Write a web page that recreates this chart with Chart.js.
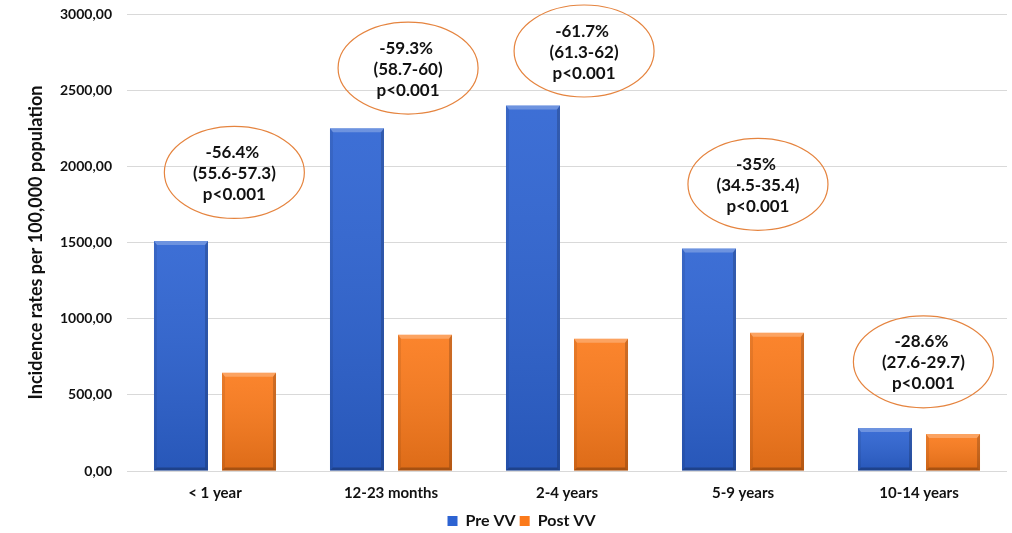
<!DOCTYPE html>
<html>
<head>
<meta charset="utf-8">
<script src="https://cdn.jsdelivr.net/npm/chart.js@4/dist/chart.umd.min.js"></script>
<style>
  html, body { margin: 0; padding: 0; background: #ffffff; }
  #wrap { width: 1012px; height: 533px; }
</style>
</head>
<body>
<div id="wrap"><canvas id="c" width="1012" height="533"></canvas></div>
<script>
// Age groups and incidence rates per 100,000 population
const categories = ['< 1 year', '12-23 months', '2-4 years', '5-9 years', '10-14 years'];
const preVV = [1510, 2250, 2400, 1460, 283];
const postVV = [645, 895, 868, 908, 243];
const yTickValues = [0, 500, 1000, 1500, 2000, 2500, 3000];

// Relative change, confidence interval and p-value per age group
const changeLabels = ['-56.4%', '-59.3%', '-61.7%', '-35%', '-28.6%'];
const ciLabels = ['(55.6-57.3)', '(58.7-60)', '(61.3-62)', '(34.5-35.4)', '(27.6-29.7)'];
const pLabels = ['p<0.001', 'p<0.001', 'p<0.001', 'p<0.001', 'p<0.001'];

// Where each callout sits: category offset and rate value
const calloutX = [0.11, 0.097, 0.097, 0.085, 0.025];
const calloutY = [1960, 2645, 2757, 1882, 717];

const FONT = 'Lato, "Open Sans", sans-serif';
const BLUE = '#2d63d2';
const ORANGE = '#fb7a1b';

// Bevelled look for each bar: vertical shading plus light/dark edges
const bevelPlugin = {
  id: 'bevel',
  afterDatasetsDraw(chart) {
    const ctx = chart.ctx;
    chart.data.datasets.forEach((ds, di) => {
      const meta = chart.getDatasetMeta(di);
      if (meta.hidden) return;
      meta.data.forEach(bar => {
        const w = bar.width;
        const l = bar.x - w / 2, r = bar.x + w / 2, t = bar.y, b = bar.base;
        const h = b - t;
        if (h <= 0) return;
        const e = 3;
        ctx.save();
        const g = ctx.createLinearGradient(0, t, 0, b);
        g.addColorStop(0, 'rgba(255,255,255,0.08)');
        g.addColorStop(1, 'rgba(0,0,0,0.12)');
        ctx.fillStyle = g;
        ctx.fillRect(l, t, w, h);
        // top edge
        ctx.fillStyle = 'rgba(255,255,255,0.25)';
        ctx.beginPath();
        ctx.moveTo(l, t); ctx.lineTo(r, t); ctx.lineTo(r - e, t + e + 1); ctx.lineTo(l + e, t + e + 1); ctx.closePath();
        ctx.fill();
        // left edge
        ctx.fillStyle = 'rgba(0,0,0,0.08)';
        ctx.beginPath();
        ctx.moveTo(l, t); ctx.lineTo(l + e, t + e + 1); ctx.lineTo(l + e, b - e); ctx.lineTo(l, b); ctx.closePath();
        ctx.fill();
        // right edge
        ctx.fillStyle = 'rgba(0,0,0,0.18)';
        ctx.beginPath();
        ctx.moveTo(r, t); ctx.lineTo(r - e, t + e + 1); ctx.lineTo(r - e, b - e); ctx.lineTo(r, b); ctx.closePath();
        ctx.fill();
        // bottom edge
        ctx.fillStyle = 'rgba(0,0,0,0.25)';
        ctx.beginPath();
        ctx.moveTo(l, b); ctx.lineTo(r, b); ctx.lineTo(r - e, b - e); ctx.lineTo(l + e, b - e); ctx.closePath();
        ctx.fill();
        ctx.restore();
      });
    });
  }
};

// Oval callouts with the change statistics
const calloutPlugin = {
  id: 'callouts',
  afterDraw(chart) {
    const ctx = chart.ctx;
    const xs = chart.scales.x, ys = chart.scales.y;
    ctx.save();
    categories.forEach((c, i) => {
      const cx = xs.getPixelForValue(i + calloutX[i]);
      const cy = ys.getPixelForValue(calloutY[i]);
      ctx.beginPath();
      ctx.ellipse(cx, cy, 70, 46, 0, 0, Math.PI * 2);
      ctx.lineWidth = 1.2;
      ctx.strokeStyle = '#e5843f';
      ctx.stroke();
      ctx.fillStyle = '#111111';
      ctx.font = 'bold 17px ' + FONT;
      ctx.textAlign = 'center';
      ctx.textBaseline = 'middle';
      ctx.fillText(changeLabels[i], cx - 2, cy - 20);
      ctx.fillText(ciLabels[i], cx, cy + 1);
      ctx.fillText(pLabels[i], cx, cy + 22);
    });
    ctx.restore();
  }
};

// Nudge the legend a little right of the canvas centre and closer to the bottom
const legendShift = {
  id: 'legendShift',
  afterLayout(chart) {
    if (chart.legend) {
      chart.legend.left += 36;
      chart.legend.top += 6;
    }
  }
};

new Chart(document.getElementById('c'), {
  type: 'bar',
  data: {
    labels: categories,
    datasets: [
      { label: 'Pre VV', data: preVV, backgroundColor: BLUE, borderWidth: 0 },
      { label: 'Post VV', data: postVV, backgroundColor: ORANGE, borderWidth: 0 }
    ]
  },
  options: {
    responsive: false,
    animation: false,
    devicePixelRatio: 1,
    categoryPercentage: 0.773,
    barPercentage: 0.794,
    layout: { padding: { left: 0, right: 5, top: 14, bottom: 0 } },
    plugins: {
      legend: {
        position: 'bottom',
        labels: {
          color: '#111111',
          font: { family: FONT, size: 16, weight: 'bold' },
          boxWidth: 10,
          boxHeight: 10,
          padding: 4
        }
      },
      tooltip: { enabled: false }
    },
    scales: {
      x: {
        grid: { display: false, drawTicks: false },
        border: { display: false },
        ticks: {
          color: '#111111',
          font: { family: FONT, size: 15, weight: 'bold' },
          padding: 13
        },
        afterFit(scale) {
          scale.height = 32;
          scale.paddingLeft = 0;
          scale.paddingRight = 0;
        }
      },
      y: {
        min: 0,
        max: 3000,
        afterBuildTicks(scale) {
          scale.ticks = yTickValues.map(v => ({ value: v }));
        },
        grid: { color: '#d9d9d9', lineWidth: 1, drawTicks: false },
        border: { display: false },
        ticks: {
          color: '#111111',
          font: { family: FONT, size: 14, weight: 'bold' },
          padding: 15,
          callback: v => Number(v).toFixed(2).replace('.', ',')
        },
        title: {
          display: true,
          text: 'Incidence rates per 100,000 population',
          color: '#111111',
          font: { family: FONT, size: 18, weight: 'bold' },
          padding: { top: 25, bottom: 0 }
        },
        afterFit(scale) {
          scale.width = 127;
          scale.paddingTop = 0;
          scale.paddingBottom = 0;
        }
      }
    }
  },
  plugins: [bevelPlugin, calloutPlugin, legendShift]
});
</script>
</body>
</html>
